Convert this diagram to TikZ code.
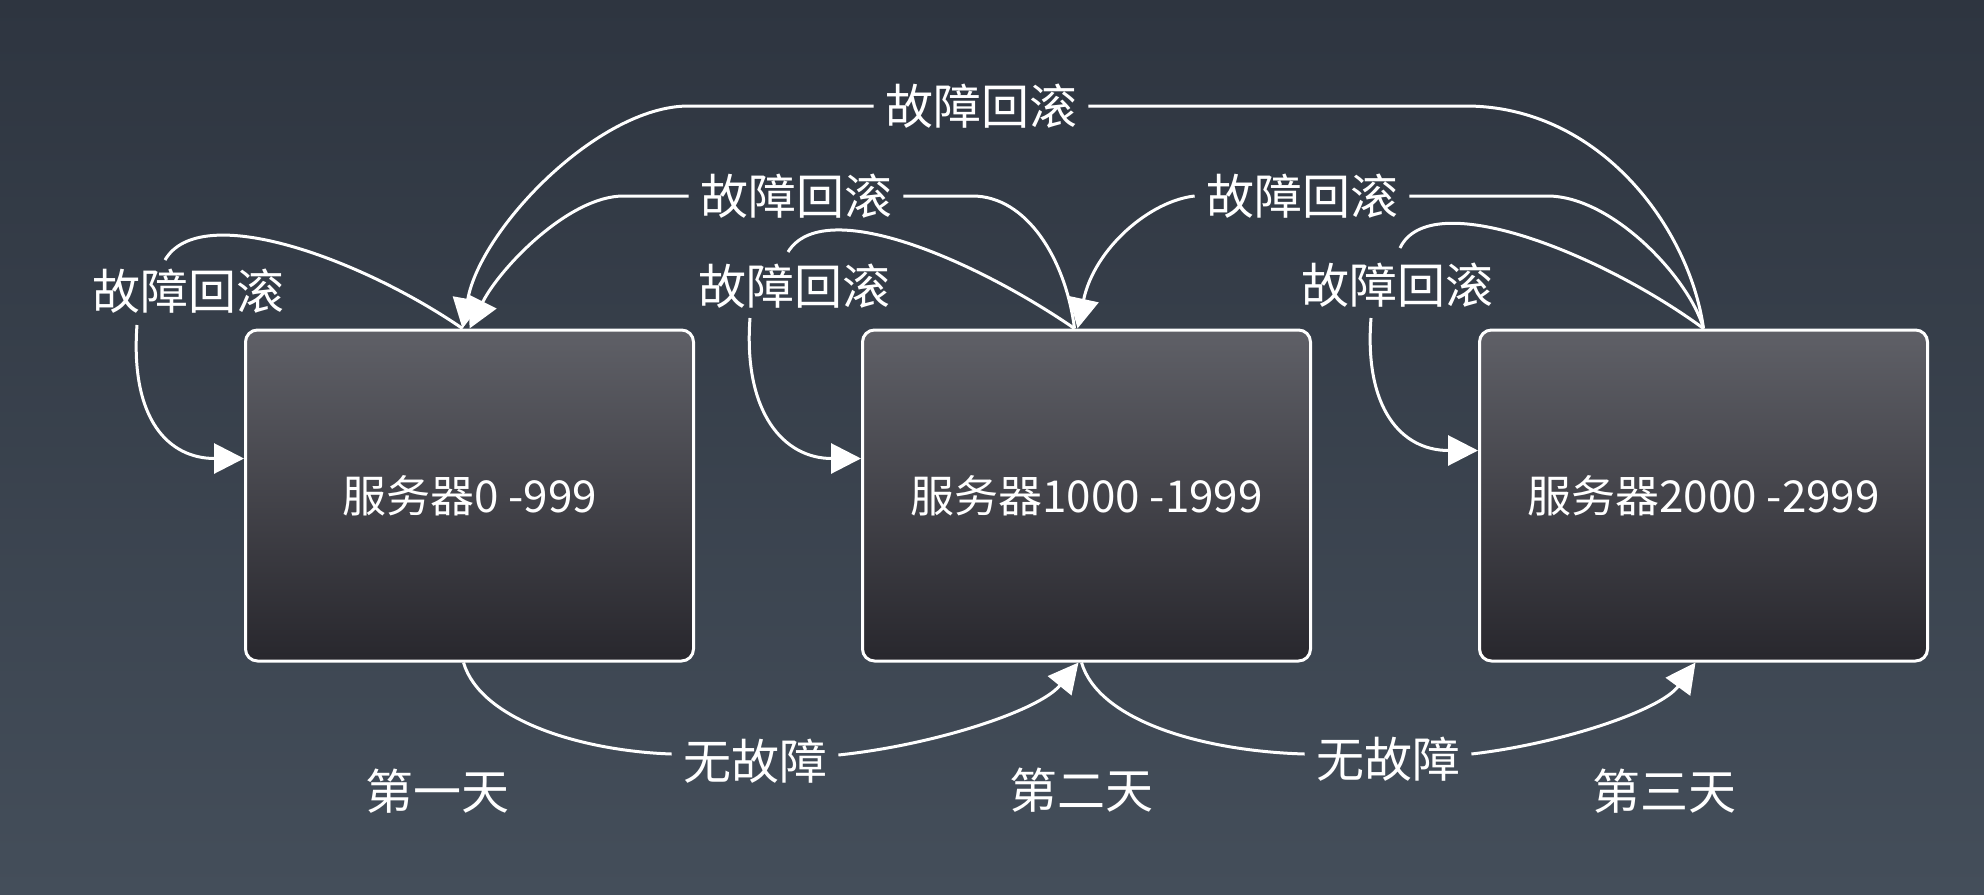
\documentclass[tikz,border=0pt]{standalone}
\usepackage{fontspec}
\setmainfont{Noto Sans CJK SC}
\usetikzlibrary{arrows.meta,calc}
\definecolor{bgtop}{RGB}{46,53,64}
\definecolor{bgbot}{RGB}{68,78,90}
\definecolor{boxtop}{RGB}{95,96,103}
\definecolor{boxbot}{RGB}{40,39,45}
\begin{document}
\begin{tikzpicture}[x=0.5pt,y=-0.5pt,
  server/.style={draw=white, line width=1.5pt, rounded corners=6pt,
    top color=boxtop, bottom color=boxbot,
    minimum width=224pt, minimum height=165.5pt, inner sep=0pt,
    text=white, font=\fontsize{22pt}{24pt}\selectfont},
  lbl/.style={text=white, inner xsep=5.5pt, inner ysep=0pt,
    font=\fontsize{24pt}{26pt}\selectfont},
  conn/.style={draw=white, line width=1.5pt},
  arr/.style={conn, -{Triangle[length=15pt,width=15pt]}},
]
\shade[top color=bgtop, bottom color=bgbot] (0,0) rectangle (1984,894);
\useasboundingbox (0,0) rectangle (1984,894);

% servers
\node[server] (b1) at (469.5,495.5) {服务器0 -999};
\node[server] (b2) at (1086.5,495.5) {服务器1000 -1999};
\node[server] (b3) at (1703.5,495.5) {服务器2000 -2999};

% labels
\node[lbl] (top) at (981,106) {故障回滚};
\node[lbl] (m12) at (796,196) {故障回滚};
\node[lbl] (m23) at (1302,196) {故障回滚};
\node[lbl] (s1) at (188,291) {故障回滚};
\node[lbl] (s2) at (794,286) {故障回滚};
\node[lbl] (s3) at (1397,285) {故障回滚};
\node[lbl] (n12) at (755,761) {无故障};
\node[lbl] (n23) at (1388,759) {无故障};
\node[lbl] (d1) at (437,791) {第一天};
\node[lbl] (d2) at (1081,790) {第二天};
\node[lbl] (d3) at (1664,791) {第三天};

% big arc: server 3 -> server 1
\draw[conn] (b3.north) .. controls +(-14,-100) and +(135,0) .. ($(top.east)+(377,0)$) -- (top.east);
\draw[arr] (top.west) -- ++(-185,0) .. controls +(-90,0) and +(18,-100) .. ($(b1.north)+(-7,0)$);

% server 2 -> server 1
\draw[conn] ($(b2.north)+(-12,0)$) .. controls +(-9,-70) and +(54,0) .. ($(m12.east)+(69,0)$) -- (m12.east);
\draw[arr] (m12.west) -- ++(-65,0) .. controls +(-55,0) and +(30,-60) .. (b1.north);

% server 3 -> server 2
\draw[conn] (b3.north) .. controls +(-14,-50) and +(65,0) .. ($(m23.east)+(138,0)$) -- (m23.east);
\draw[arr] (m23.west) .. controls +(-45,5) and +(17,-80) .. ($(b2.north)+(-9,0)$);

% self loop 1
\draw[conn] ($(b1.north)+(-7,0)$) .. controls +(-102,-70) and +(35,-60) .. ($(s1.center)+(-23,-31)$);
\draw[arr] ($(s1.center)+(-51,34)$) .. controls +(-7,95) and +(-75,0) .. ($(b1.west)+(0,-37)$);

% self loop 2
\draw[conn] ($(b2.north)+(-12,0)$) .. controls +(-102,-70) and +(35,-57) .. ($(s2.center)+(-6,-34)$);
\draw[arr] ($(s2.center)+(-44,32)$) .. controls +(-7,95) and +(-77,0) .. ($(b2.west)+(0,-37)$);

% self loop 3
\draw[conn] (b3.north) .. controls +(-102,-75) and +(30,-63) .. ($(s3.center)+(3,-37)$);
\draw[arr] ($(s3.center)+(-26,33)$) .. controls +(-7,90) and +(-77,0) .. ($(b3.west)+(0,-45)$);

% no fault: server 1 -> server 2
\draw[conn] ($(b1.south)+(-6,0)$) .. controls +(17,58) and +(-89,-3) .. ($(n12.west)+(0,-7)$);
\draw[arr] ($(n12.east)+(0,-6)$) .. controls +(96,-10) and +(-39,48) .. ($(b2.south)+(-8,0)$);

% no fault: server 2 -> server 3
\draw[conn] ($(b2.south)+(-5,0)$) .. controls +(17,58) and +(-103,-3) .. ($(n23.west)+(0,-5)$);
\draw[arr] ($(n23.east)+(0,-5)$) .. controls +(88,-10) and +(-35,48) .. ($(b3.south)+(-8,0)$);
\end{tikzpicture}
\end{document}
